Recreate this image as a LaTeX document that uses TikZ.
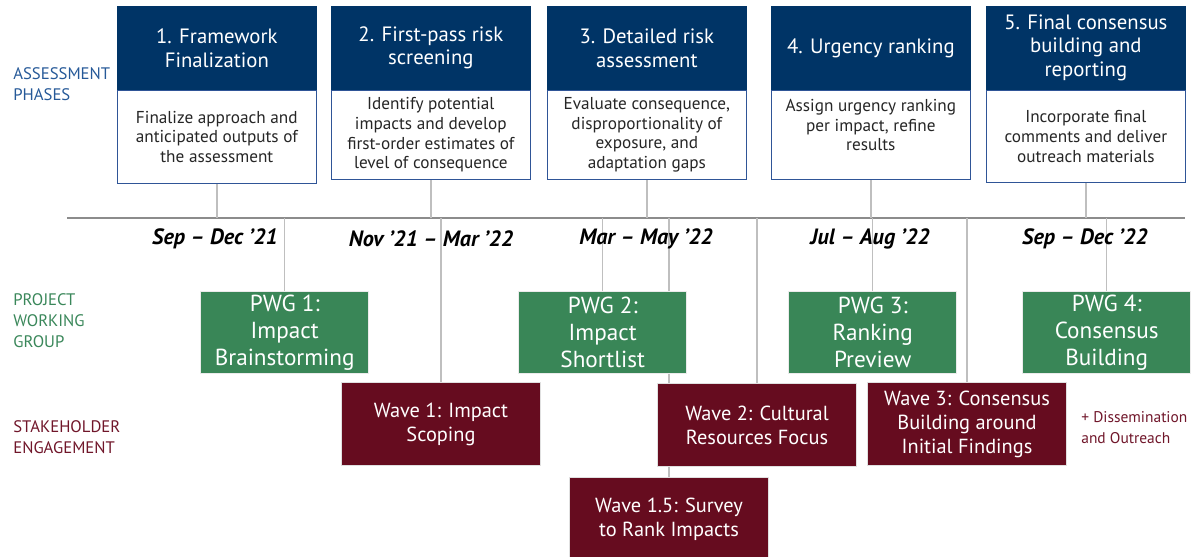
\documentclass[tikz,border=0pt]{standalone}
\usepackage{fontspec}
\setmainfont{PT Sans}
\usetikzlibrary{positioning,backgrounds}

\definecolor{phaseblue}{RGB}{0,52,102}
\definecolor{descblue}{RGB}{47,85,151}
\definecolor{pwggreen}{RGB}{57,134,87}
\definecolor{wavered}{RGB}{102,12,31}
\definecolor{lblblue}{RGB}{38,89,152}
\definecolor{lblgreen}{RGB}{58,135,90}
\definecolor{lblred}{RGB}{112,22,42}

\tikzset{
    phase/.style={fill=phaseblue, draw=phaseblue, text=white, inner sep=0pt,
        minimum width=3.98cm, minimum height=1.66cm, align=center,
        font=\fontsize{11.8}{13.6}\selectfont},
    desc/.style={fill=white, draw=descblue, line width=0.8pt, text=black!85,
        inner sep=0pt, minimum width=3.98cm, minimum height=1.78cm, align=center,
        font=\fontsize{9.8}{11.2}\selectfont},
    pwg/.style={fill=pwggreen, draw=black!8, line width=0.8pt, text=white,
        inner sep=0pt, minimum width=3.36cm, minimum height=1.64cm, align=center,
        font=\fontsize{13.2}{15.3}\selectfont},
    wave/.style={fill=wavered, draw=black!12, line width=0.6pt, text=white,
        inner sep=0pt, minimum width=3.98cm, minimum height=1.66cm, align=center,
        font=\fontsize{11.6}{13.6}\selectfont},
    when/.style={font=\fontsize{12.6}{14}\selectfont\bfseries\itshape},
    lane/.style={anchor=west, align=left, inner sep=0pt,
        font=\fontsize{9.5}{11.9}\selectfont},
    link/.style={draw=black!25, line width=0.8pt},
    axis/.style={draw=black!45, line width=0.8pt}
}

\begin{document}
\begin{tikzpicture}[x=0.02cm, y=-0.02cm]
    \useasboundingbox (0,0) rectangle (1196,556);

    % lane titles
    \node[lane, text=lblblue] (lbl-phase) at (13,84) {ASSESSMENT\\PHASES};
    \node[lane, text=lblgreen] (lbl-pwg) at (13,321) {PROJECT\\WORKING\\GROUP};
    \node[lane, text=lblred] (lbl-eng) at (13,437) {STAKEHOLDER\\ENGAGEMENT};

    % assessment phases
    \node[phase, anchor=north west] (ph1) at (117,6) {1. Framework\\Finalization};
    \node[desc, below=0pt of ph1, minimum height=1.86cm] (ds1)
        {Finalize approach and\\anticipated outputs of\\the assessment};
    \node[phase, anchor=north west] (ph2) at (331,6) {2. First-pass risk\\screening};
    \node[desc, below=0pt of ph2] (ds2)
        {Identify potential\\impacts and develop\\first-order estimates of\\level of consequence};
    \node[phase, anchor=north west] (ph3) at (547,6) {3. Detailed risk\\assessment};
    \node[desc, below=0pt of ph3] (ds3)
        {Evaluate consequence,\\disproportionality of\\exposure, and\\adaptation gaps};
    \node[phase, anchor=north west] (ph4) at (771,6) {4. Urgency ranking};
    \node[desc, below=0pt of ph4] (ds4)
        {Assign urgency ranking\\per impact, refine\\results\\ \mbox{}};
    \node[phase, anchor=north west] (ph5) at (986,6) {5. Final consensus\\building and\\reporting};
    \node[desc, below=0pt of ph5, minimum height=1.84cm] (ds5)
        {Incorporate final\\comments and deliver\\outreach materials};

    % time line
    \coordinate (tl-l) at (67,218);
    \coordinate (tl-r) at (1185,218);
    \node[when] (d1) at (215,239) {Sep -- Dec '21};
    \node[when] (d2) at (431,239) {Nov '21 -- Mar '22};
    \node[when] (d3) at (646,239) {Mar -- May '22};
    \node[when] (d4) at (870,239) {Jul -- Aug '22};
    \node[when] (d5) at (1085,239) {Sep -- Dec '22};

    % working group meetings
    \node[pwg, anchor=north west] (pwg1) at (200,291) {PWG 1:\\Impact\\Brainstorming};
    \node[pwg, anchor=north west] (pwg2) at (518,291) {PWG 2:\\Impact\\Shortlist};
    \node[pwg, anchor=north west] (pwg3) at (788,291) {PWG 3:\\Ranking\\Preview};
    \node[pwg, anchor=north west] (pwg4) at (1022,291) {PWG 4:\\Consensus\\Building};

    % engagement waves
    \node[wave, anchor=north west] (w1) at (341,382) {Wave 1: Impact\\Scoping};
    \node[wave, anchor=north west] (w2) at (657,383) {Wave 2: Cultural\\Resources Focus};
    \node[wave, anchor=north west] (w3) at (867,382) {Wave 3: Consensus\\Building around\\Initial Findings};
    \node[wave, anchor=north west] (w15) at (569,477) {Wave 1.5: Survey\\to Rank Impacts};
    \node[lane, text=lblred, font=\fontsize{8.8}{11.9}\selectfont] (extra) at (1081,428)
        {+ Dissemination\\and Outreach};

    \begin{scope}[on background layer]
        \draw[axis] (tl-l) -- (tl-r);
        \foreach \n in {ds1,ds2,ds3,ds4,ds5}
            \draw[link] (\n.south) -- (\n.south |- tl-l);
        \foreach \n in {pwg1,pwg2,pwg3,pwg4,w1,w2,w3,w15}
            \draw[link] (\n.north |- tl-l) -- (\n.north);
    \end{scope}
\end{tikzpicture}
\end{document}
